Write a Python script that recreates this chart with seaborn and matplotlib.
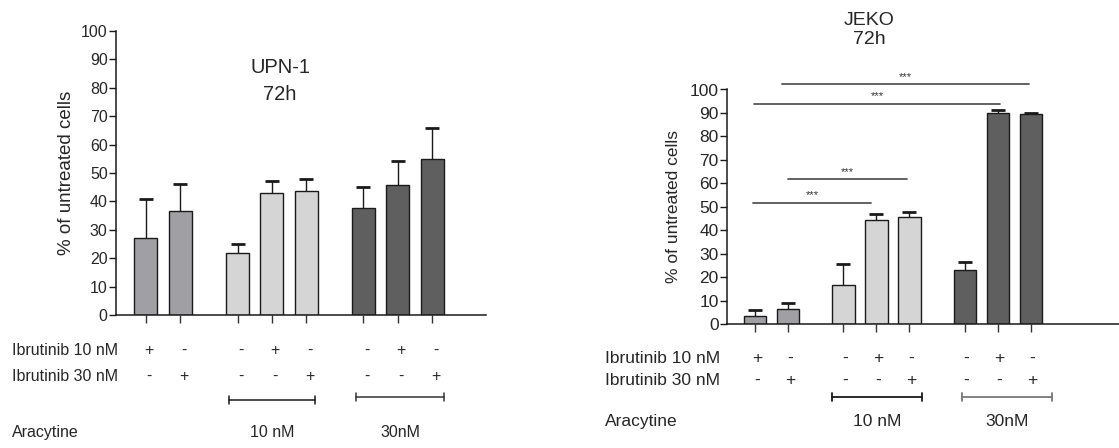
import numpy as np
import pandas as pd
import matplotlib
matplotlib.use("Agg")
import matplotlib.pyplot as plt
import seaborn as sns
from matplotlib.transforms import blended_transform_factory as btf

# ---------------- data ----------------
conditions = ["Ibr10", "Ibr30", "Ara10", "Ara10+Ibr10", "Ara10+Ibr30",
              "Ara30", "Ara30+Ibr10", "Ara30+Ibr30"]
groups = ["none", "none", "ara10", "ara10", "ara10", "ara30", "ara30", "ara30"]
ibr10_row = ["+", "-", "-", "+", "-", "-", "+", "-"]
ibr30_row = ["-", "+", "-", "-", "+", "-", "-", "+"]

upn1_mean = [27.1, 36.6, 22.0, 43.1, 43.8, 37.6, 45.7, 55.0]
upn1_err_top = [41.0, 46.0, 25.0, 47.1, 47.9, 45.0, 54.3, 65.7]
jeko_mean = [3.3, 6.6, 16.5, 44.3, 45.6, 22.9, 89.9, 89.6]
jeko_err_top = [6.1, 9.1, 25.6, 46.7, 47.6, 26.4, 91.2, 89.8]

# significance bars for JEKO (x in bar-index units, y in % units)
sig_x0 = [0.81, -0.04, 1.0, -0.07]
sig_x1 = [8.30, 7.41, 4.60, 3.50]
sig_y = [102.2, 94.0, 61.8, 51.7]
sig_label = ["***", "***", "***", "***"]

yticks = list(range(0, 101, 10))
title_left = "UPN-1\n72h"
title_right = "JEKO\n72h"
ylabel = "% of untreated cells"
row_labels = ["Ibrutinib 10 nM", "Ibrutinib 30 nM", "Aracytine"]
ara_labels_left = ["10 nM", "30nM"]
ara_labels_right = ["10 nM", "30nM"]

palette = {"none": "#a0a0a4", "ara10": "#d5d5d5", "ara30": "#5f5f5f"}

# ---------------- style ----------------
sns.set_style("ticks")
plt.rcParams["font.family"] = ["Liberation Sans", "DejaVu Sans"]
REG = ["Liberation Sans", "DejaVu Sans"]

W, H = 1119, 448
fig = plt.figure(figsize=(W / 100, H / 100), dpi=100)

pos = [0, 1, 2.67, 3.67, 4.67, 6.34, 7.34, 8.34]


def fy(px):
    return 1 - px / H


def draw_panel(ax, mean, top, xlim, tick_fs, lab_fs, lab_pad):
    df = pd.DataFrame({"pos": pos, "val": mean, "grp": groups})
    sns.barplot(data=df, x="pos", y="val", hue="grp", palette=palette,
                native_scale=True, dodge=False, width=0.67, errorbar=None,
                edgecolor="#1a1a1a", linewidth=1.0, legend=False, ax=ax,
                zorder=2)
    err = np.array(top) - np.array(mean)
    eb = ax.errorbar(pos, mean, yerr=[np.zeros(len(mean)), err], fmt="none",
                     ecolor="#1a1a1a", elinewidth=1.0, capsize=5, capthick=2,
                     zorder=3)
    # keep only the upper caps
    caps = eb[1]
    if len(caps) == 2:
        caps[0].set_visible(False)
    ax.set_xlim(*xlim)
    ax.set_ylim(0, 100)
    ax.set_yticks(yticks)
    ax.set_yticklabels([str(t) for t in yticks], family=REG, fontsize=tick_fs)
    ax.set_xticks(pos)
    ax.set_xticklabels([""] * len(pos))
    ax.tick_params(axis="y", length=5, width=1, color="#1a1a1a", pad=1)
    ax.tick_params(axis="x", length=6, width=1, color="#333333")
    ax.set_xlabel("")
    ax.set_ylabel(ylabel, family=REG, fontsize=lab_fs, labelpad=lab_pad)
    for s in ["top", "right"]:
        ax.spines[s].set_visible(False)
    for s in ["left", "bottom"]:
        ax.spines[s].set_linewidth(1.1)
        ax.spines[s].set_color("#1a1a1a")
    ax.set_facecolor("white")


# ---------------- left panel (UPN-1) ----------------
LFS = 11.5
axL = fig.add_axes([116 / W, fy(315), (486 - 116) / W, (315 - 31) / H])
draw_panel(axL, upn1_mean, upn1_err_top, (-0.87, 9.91), 11.5, 13.5, 4)
fig.text(280 / W, fy(81), title_left, ha="center", va="center",
         family=REG, fontsize=14.5, linespacing=1.55)

trL = btf(axL.transData, fig.transFigure)
for i, p in enumerate(pos):
    axL.text(p + 0.1, fy(350), ibr10_row[i], transform=trL, ha="center",
             va="center", family=REG, fontsize=LFS)
    axL.text(p + 0.1, fy(376), ibr30_row[i], transform=trL, ha="center",
             va="center", family=REG, fontsize=LFS)
fig.text(12 / W, fy(350), row_labels[0], ha="left", va="center",
         family=REG, fontsize=LFS)
fig.text(12 / W, fy(376), row_labels[1], ha="left", va="center",
         family=REG, fontsize=LFS)
fig.text(12 / W, fy(432), row_labels[2], ha="left", va="center",
         family=REG, fontsize=LFS)
for (x0, x1, yb, lab, col) in [(2.41, 4.94, 400, ara_labels_left[0], "#1a1a1a"),
                               (6.12, 8.69, 397, ara_labels_left[1], "#333333")]:
    axL.plot([x0, x1], [fy(yb), fy(yb)], transform=trL, color=col, lw=1.1,
             clip_on=False)
    for xe in (x0, x1):
        axL.plot([xe, xe], [fy(yb - 4), fy(yb + 4)], transform=trL, color=col,
                 lw=1.1, clip_on=False)
    axL.text((x0 + x1) / 2, fy(432), lab, transform=trL, ha="center",
             va="center", family=REG, fontsize=LFS)

# ---------------- right panel (JEKO) ----------------
axR = fig.add_axes([727 / W, fy(324), (W - 727) / W, (324 - 89.5) / H])
draw_panel(axR, jeko_mean, jeko_err_top, (-0.86, 11.02), 12.5, 12.5, 6)
fig.text(869 / W, fy(30), title_right, ha="center", va="center",
         family=REG, fontsize=14, linespacing=1.2)

for x0, x1, y, lab in zip(sig_x0, sig_x1, sig_y, sig_label):
    axR.plot([x0, x1], [y, y], color="#555555", lw=1.3, clip_on=False, zorder=4)
    axR.text((x0 + x1) / 2, y + 1.0, lab, ha="center", va="bottom",
             fontsize=8, color="#333333", clip_on=False)

trR = btf(axR.transData, fig.transFigure)
for i, p in enumerate(pos):
    axR.text(p + 0.05, fy(358), ibr10_row[i], transform=trR, ha="center",
             va="center", family=REG, fontsize=12.5)
    axR.text(p + 0.05, fy(380), ibr30_row[i], transform=trR, ha="center",
             va="center", family=REG, fontsize=12.5)
fig.text(605 / W, fy(358), row_labels[0], ha="left", va="center",
         family=REG, fontsize=12.5)
fig.text(605 / W, fy(380), row_labels[1], ha="left", va="center",
         family=REG, fontsize=12.5)
fig.text(605 / W, fy(421), row_labels[2], ha="left", va="center",
         family=REG, fontsize=12.5)
for (x0, x1, yb, lab, col) in [(2.33, 5.06, 397, ara_labels_right[0], "#1a1a1a"),
                               (6.25, 8.98, 397, ara_labels_right[1], "#777777")]:
    axR.plot([x0, x1], [fy(yb), fy(yb)], transform=trR, color=col, lw=1.3,
             clip_on=False)
    for xe in (x0, x1):
        axR.plot([xe, xe], [fy(yb - 4), fy(yb + 4)], transform=trR, color=col,
                 lw=1.3, clip_on=False)
    axR.text((x0 + x1) / 2, fy(421), lab, transform=trR, ha="center",
             va="center", family=REG, fontsize=12.5)

fig.savefig("out.png", dpi=100, facecolor="white")
